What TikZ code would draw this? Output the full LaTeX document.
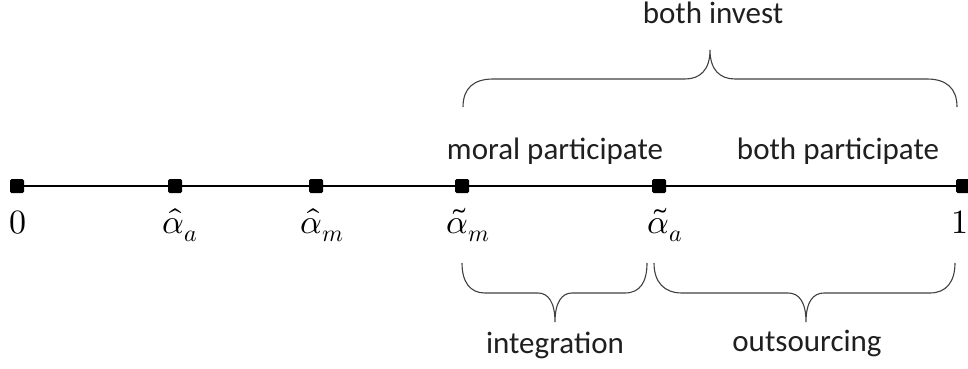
\documentclass[tikz,border=0pt]{standalone}
\usepackage{fontspec}
\usepackage{unicode-math}
\setmainfont{Carlito}
\setmathfont{Latin Modern Math}
\begin{document}
\begin{tikzpicture}[x=1pt,y=-1pt,
  tick/.style={fill=black,minimum size=14pt,inner sep=0pt,rounded corners=1.5pt},
  lbl/.style={anchor=base,inner sep=0pt,font=\fontsize{31}{36}\selectfont,text=black!88},
  mlbl/.style={anchor=base,inner sep=0pt,font=\fontsize{34}{40}\selectfont},
  bracepath/.style={draw=black!75,line width=1.1pt}]
\useasboundingbox (0,0) rectangle (968,369);
% points
\node[tick] (p0) at (17,186) {};
\node[tick] (p1) at (175,186) {};
\node[tick] (p2) at (316,186) {};
\node[tick] (p3) at (462,186) {};
\node[tick] (p4) at (659,186) {};
\node[tick] (p5) at (963,186) {};
\draw[line width=1.2pt] (p0) -- (p1) -- (p2) -- (p3) -- (p4) -- (p5);
% math labels
\node[mlbl] (l0) at (18,233) {$0$};
\node[mlbl] (l1) at (180,233) {$\hat{\alpha}_a$};
\node[mlbl] (l2) at (322,233) {$\hat{\alpha}_m$};
\node[mlbl] (l3) at (468,233) {$\tilde{\alpha}_m$};
\node[mlbl] (l4) at (665,233) {$\tilde{\alpha}_a$};
\node[mlbl] (l5) at (960,233) {$1$};
% text labels
\node[lbl] (mp) at (555,159) {moral participate};
\node[lbl] (bp) at (838,159) {both participate};
\node[lbl] (bi) at (713,24) {both invest};
\node[lbl] (ig) at (555,353) {integration};
\node[lbl] (os) at (807,351) {outsourcing};
% braces
\draw[bracepath] (463,107) .. controls (463,88) and (474,79) .. (493,79) -- (685,79)
  .. controls (700,79) and (710,70) .. (710,50)
  .. controls (710,70) and (720,79) .. (735,79) -- (927,79)
  .. controls (946,79) and (957,88) .. (957,107);
\draw[bracepath] (462,263) .. controls (462,282) and (470,293) .. (485,293) -- (538,293)
  .. controls (548,293) and (555,302) .. (555,322)
  .. controls (555,302) and (562,293) .. (572,293) -- (625,293)
  .. controls (640,293) and (647,282) .. (647,263);
\draw[bracepath] (654,263) .. controls (654,282) and (664,293) .. (682,293) -- (788,293)
  .. controls (799,293) and (806,302) .. (806,322)
  .. controls (806,302) and (813,293) .. (824,293) -- (930,293)
  .. controls (946,293) and (955,282) .. (955,263);
\end{tikzpicture}
\end{document}
